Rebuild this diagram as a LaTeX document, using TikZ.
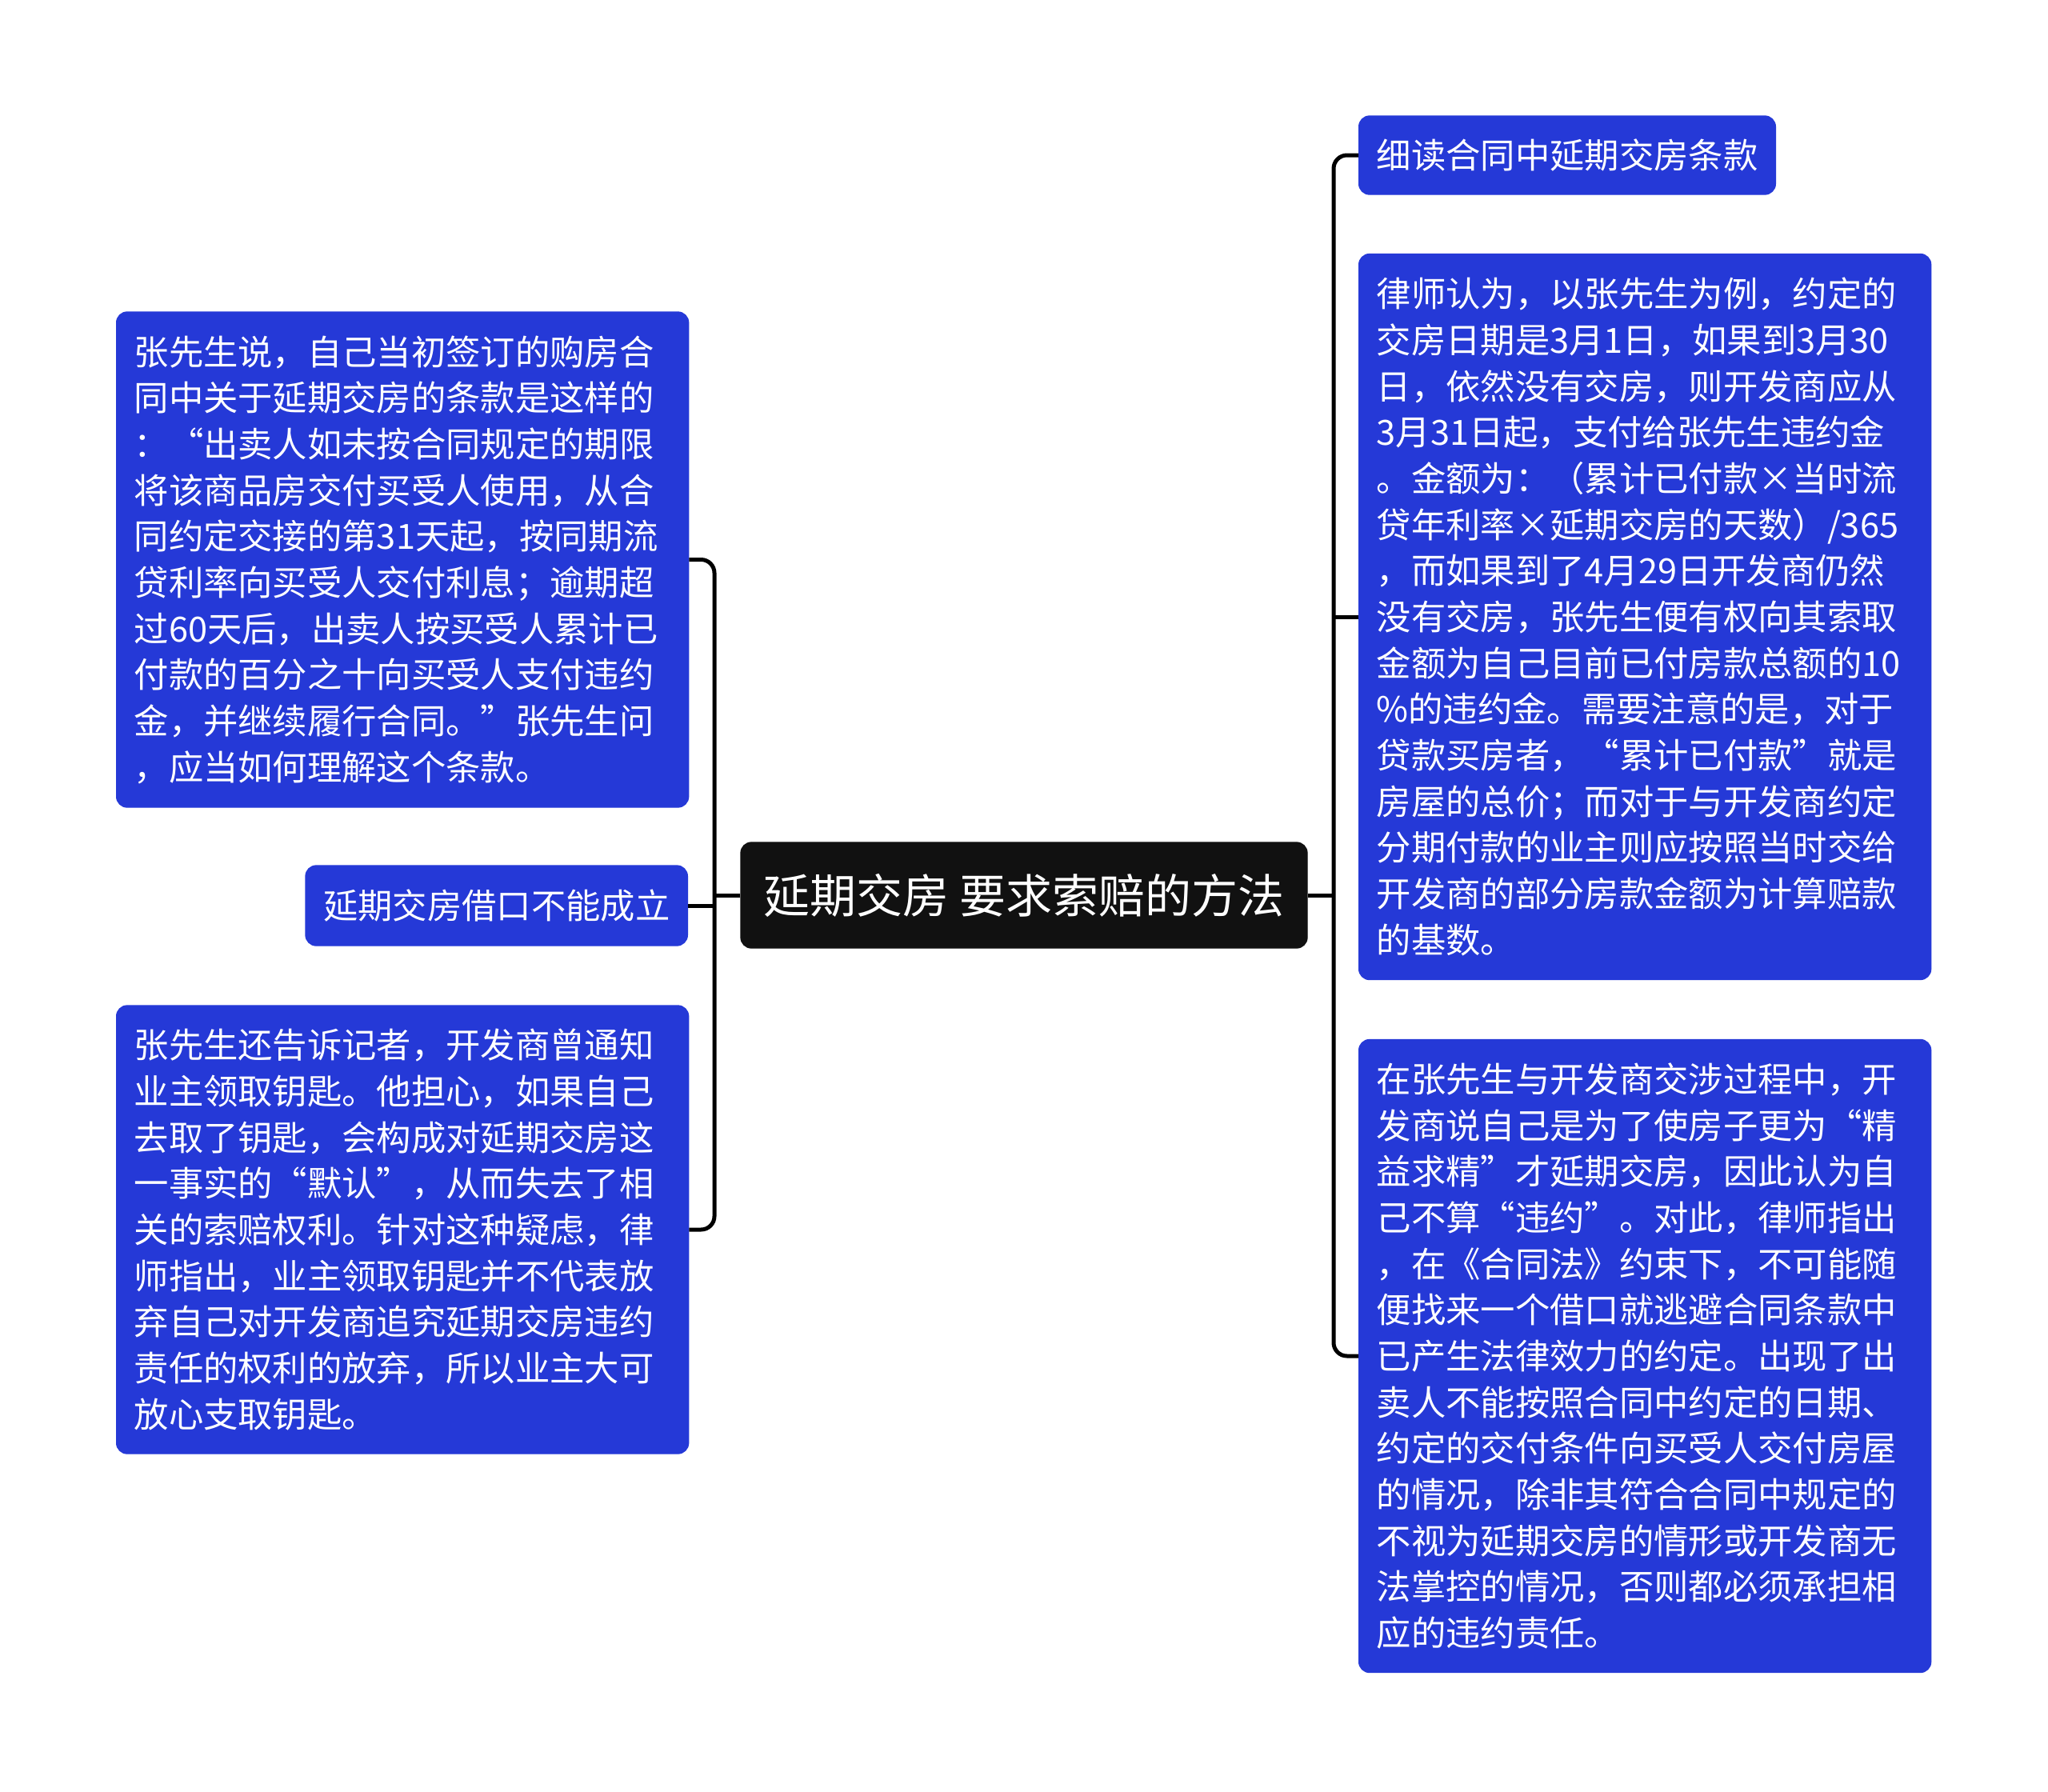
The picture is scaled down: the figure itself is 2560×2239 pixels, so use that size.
\documentclass[tikz,border=0pt]{standalone}
\usepackage{fontspec}
\newfontfamily\cjk{Noto Sans CJK SC}
\definecolor{boxblue}{RGB}{37,57,215}
\definecolor{rootblack}{RGB}{17,17,17}
\tikzset{
  conn/.style={draw=black, line width=1.5pt, rounded corners=5pt},
  bluebox/.style={fill=boxblue, draw=boxblue, rounded corners=4pt, text=white,
    font=\cjk\fontsize{13pt}{17.3pt}\selectfont, align=left,
    inner xsep=6.6pt, inner ysep=0pt},
  longbox/.style={bluebox, text width=201.3pt},
  rootbox/.style={fill=rootblack, draw=rootblack, rounded corners=4pt, text=white,
    font=\cjk\fontsize{17.4pt}{20pt}\selectfont, align=center,
    minimum width=212.4pt, minimum height=39.6pt, inner sep=0pt},
}
\begin{document}
\begin{tikzpicture}[x=0.3pt,y=-0.3pt]
\useasboundingbox (0,0) rectangle (2560,2239);

\node[rootbox] (root) at (1280,1119) {延期交房 要求索赔的方法};

\node[longbox, anchor=west, minimum height=185.7pt] (L1) at (145,699.5) {张先生说，自己当初签订的购房合\\
同中关于延期交房的条款是这样的\\
：“出卖人如未按合同规定的期限\\
将该商品房交付买受人使用，从合\\
同约定交接的第31天起，按同期流\\
贷利率向买受人交付利息；逾期超\\
过60天后，出卖人按买受人累计已\\
付款的百分之十向买受人支付违约\\
金，并继续履行合同。”张先生问\\
，应当如何理解这个条款。};

\node[bluebox, anchor=east, minimum height=30pt] (L2) at (860,1132) {延期交房借口不能成立};

\node[longbox, anchor=west, minimum height=168pt] (L3) at (145,1537) {张先生还告诉记者，开发商曾通知\\
业主领取钥匙。他担心，如果自己\\
去取了钥匙，会构成对延期交房这\\
一事实的“默认”，从而失去了相\\
关的索赔权利。针对这种疑虑，律\\
师指出，业主领取钥匙并不代表放\\
弃自己对开发商追究延期交房违约\\
责任的权利的放弃，所以业主大可\\
放心支取钥匙。};

\node[bluebox, anchor=west, minimum height=29.4pt] (R1) at (1698,194) {细读合同中延期交房条款};

\node[longbox, anchor=west, minimum height=272.1pt] (R2) at (1698,771) {律师认为，以张先生为例，约定的\\
交房日期是3月1日，如果到3月30\\
日，依然没有交房，则开发商应从\\
3月31日起，支付给张先生违约金\\
。金额为：（累计已付款×当时流\\
贷年利率×延期交房的天数）/365\\
，而如果到了4月29日开发商仍然\\
没有交房，张先生便有权向其索取\\
金额为自己目前已付房款总额的10\\
\%的违约金。需要注意的是，对于\\
贷款买房者，“累计已付款”就是\\
房屋的总价；而对于与开发商约定\\
分期付款的业主则应按照当时交给\\
开发商的部分房款金额为计算赔款\\
的基数。};

\node[longbox, anchor=west, minimum height=237.3pt] (R3) at (1698,1695) {在张先生与开发商交涉过程中，开\\
发商说自己是为了使房子更为“精\\
益求精”才延期交房，因此认为自\\
己不算“违约”。对此，律师指出\\
，在《合同法》约束下，不可能随\\
便找来一个借口就逃避合同条款中\\
已产生法律效力的约定。出现了出\\
卖人不能按照合同中约定的日期、\\
约定的交付条件向买受人交付房屋\\
的情况，除非其符合合同中规定的\\
不视为延期交房的情形或开发商无\\
法掌控的情况，否则都必须承担相\\
应的违约责任。};

\coordinate (jl) at (893,1119);
\coordinate (jr) at (1667,1119);

\draw[conn] (L1.east) -| (jl) |- (L3.east);
\draw[conn] (root.west) -- (jl);
\draw[conn] (L2.east) -- (L2.east -| jl);

\draw[conn] (R1.west) -| (jr) |- (R3.west);
\draw[conn] (root.east) -- (jr);
\draw[conn] (R2.west) -- (R2.west -| jr);
\end{tikzpicture}
\end{document}
